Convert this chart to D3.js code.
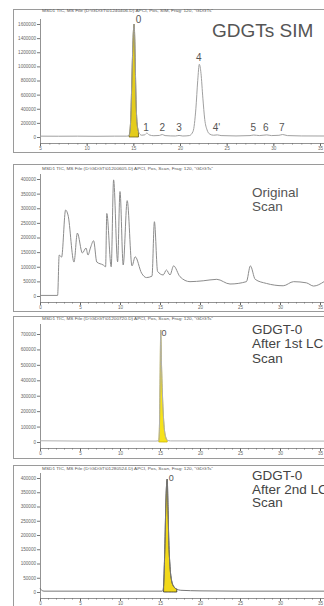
<!DOCTYPE html>
<html>
<head>
<meta charset="utf-8">
<script src="https://cdn.jsdelivr.net/npm/d3@7"></script>
<style>
  body { margin: 0; background: #fff; }
  svg { display: block; font-family: "Liberation Sans", Arial, sans-serif; }
</style>
</head>
<body>
<script>
// ---- data: [retention time (min), abundance] ----
var simTrace = [[5, 12000], [7, 11000], [9, 12000], [11, 10000], [13, 12000], [14.3, 12000], [14.55, 20000],
  [14.7, 200000], [14.8, 600000], [14.9, 1100000], [15.0, 1480000], [15.08, 1600000], [15.15, 1400000],
  [15.22, 950000], [15.3, 480000], [15.4, 200000], [15.55, 80000], [15.7, 40000], [15.9, 25000],
  [16.2, 30000], [16.45, 55000], [16.7, 30000], [17.2, 18000], [17.8, 22000], [18.1, 35000], [18.4, 20000],
  [19.5, 14000], [19.9, 22000], [20.3, 14000], [21.0, 20000], [21.4, 80000], [21.7, 400000], [21.9, 800000],
  [22.07, 1030000], [22.25, 900000], [22.45, 550000], [22.65, 250000], [22.9, 100000], [23.2, 40000],
  [23.6, 25000], [24.0, 30000], [24.4, 20000], [26, 15000], [27.5, 20000], [27.9, 28000], [28.5, 20000],
  [29.3, 30000], [29.8, 20000], [30.6, 24000], [31.0, 35000], [31.5, 20000], [33, 15000], [35.5, 14000]];

var scanTrace = [[0, 2000], [2.2, 2000], [2.4, 140000], [2.7, 133000], [3.2, 294000], [3.5, 277000],
  [4.25, 116000], [4.67, 215000], [5.3, 147000], [5.75, 164000], [6.0, 140000], [6.3, 164000],
  [6.7, 189000], [7.1, 116000], [7.9, 106000], [8.2, 100000], [8.35, 282000], [8.9, 100000],
  [9.2, 397000], [9.7, 117000], [10.0, 357000], [10.4, 106000], [10.9, 326000], [11.5, 103000],
  [11.9, 134000], [12.7, 78000], [13.3, 63000], [14.0, 68000], [14.3, 254000], [14.7, 84000],
  [15.4, 72000], [15.8, 89000], [16.25, 72000], [16.7, 103000], [17.5, 66000], [18.75, 49000],
  [20.4, 52000], [22.1, 57000], [23.75, 41000], [25.8, 49000], [26.3, 103000], [26.9, 57000],
  [28.3, 43000], [30.4, 35000], [31.7, 49000], [33.3, 45000], [34.2, 34000], [35.5, 49000]];

var lc1Trace = [[0, 8000], [5, 6000], [10, 6000], [14.5, 6000], [14.85, 8000], [14.95, 150000],
  [15.02, 450000], [15.09, 726000], [15.2, 480000], [15.35, 250000], [15.5, 110000], [15.7, 35000],
  [15.9, 12000], [16.3, 7000], [20, 7000], [25, 6000], [30, 6000], [35.5, 6000]];

var lc2Trace = [[0, 14000], [0.2, 6000], [0.5, 3000], [5, 3000], [10, 3000], [15.3, 3000], [15.45, 20000],
  [15.6, 150000], [15.75, 330000], [15.9, 396000], [16.0, 300000], [16.1, 180000], [16.25, 90000],
  [16.45, 40000], [16.7, 20000], [17.1, 10000], [17.6, 6000], [20, 4000], [25, 3000], [30, 3000], [35.5, 3000]];

// highlighted GDGT-0 window [start, end]
var simFill = [14.5, 15.6];
var lc1Fill = [14.85, 15.95];
var lc2Fill = [15.4, 17.2];

// peak labels [text, time, abundance]
var simPeaks = [["0", 15.55, 1610000], ["1", 16.36, 90000], ["2", 18.1, 90000], ["3", 19.9, 90000],
  ["4", 22.0, 1078000], ["4'", 23.9, 90000], ["5", 27.85, 90000], ["6", 29.2, 90000], ["7", 30.9, 90000]];
var lc1Peaks = [["0", 15.5, 690000]];
var lc2Peaks = [["0", 16.4, 390000]];

// tick values
var simYTicks = [0, 200000, 400000, 600000, 800000, 1000000, 1200000, 1400000, 1600000];
var scanYTicks = [0, 50000, 100000, 150000, 200000, 250000, 300000, 350000, 400000];
var lc1YTicks = [0, 100000, 200000, 300000, 400000, 500000, 600000, 700000];
var lc2YTicks = [0, 50000, 100000, 150000, 200000, 250000, 300000, 350000, 400000];
var simXTicks = [5, 10, 15, 20, 25, 30, 35];
var scanXTicks = [0, 5, 10, 15, 20, 25, 30, 35];

var headers = [
  'MSD1 TIC, MS File (D:\\GDGT\\01240406.D)   APCI, Pos, SIM, Frag: 120, "GDGTs"',
  'MSD1 TIC, MS File (D:\\GDGT\\01200605.D)   APCI, Pos, Scan, Frag: 120, "GDGTs"',
  'MSD1 TIC, MS File (D:\\GDGT\\01200720.D)   APCI, Pos, Scan, Frag: 120, "GDGTs"',
  'MSD1 TIC, MS File (D:\\GDGT\\01280524.D)   APCI, Pos, Scan, Frag: 120, "GDGTs"'
];
var titles = [["GDGTs SIM"], ["Original", "Scan"], ["GDGT-0", "After 1st LC", "Scan"], ["GDGT-0", "After 2nd LC", "Scan"]];

var W = 324, H = 606;
var svg = d3.select("body").append("svg").attr("width", W).attr("height", H);

var panels = [
  {top: 9, bottom: 152, header: 12, yAxisTop: 19, y0: 137, y1: 24, axisY: 143, xDom: [5, 35],
   yMax: 1600000, trace: simTrace, fill: simFill, peaks: simPeaks, peakSize: 10, yTicks: simYTicks, xTicks: simXTicks,
   line: "#a0a0a0", fillCol: "#e4cc1c", fillStroke: "#6a5c12", titleX: 212, titleY: [37], titleSize: 19, titleCol: "#555"},
  {top: 164, bottom: 311, header: 169.5, yAxisTop: 174, y0: 296, y1: 179, axisY: 302, xDom: [0, 35],
   yMax: 400000, trace: scanTrace, fill: null, peaks: [], peakSize: 9, yTicks: scanYTicks, xTicks: scanXTicks,
   line: "#8c8c8c", titleX: 252, titleY: [197, 210.5], titleSize: 13.5, titleCol: "#555"},
  {top: 316, bottom: 458, header: 320, yAxisTop: 324, y0: 442, y1: 334, axisY: 448, xDom: [0, 35],
   yMax: 700000, trace: lc1Trace, fill: lc1Fill, peaks: lc1Peaks, peakSize: 9, yTicks: lc1YTicks, xTicks: scanXTicks,
   line: "#b0b0b0", fillCol: "#f6e21a", fillStroke: "#c9b50a", titleX: 252, titleY: [334, 348, 362.5], titleSize: 13.5, titleCol: "#444"},
  {top: 465, bottom: 612, header: 469.5, yAxisTop: 473, y0: 592, y1: 478, axisY: 598, xDom: [0, 35],
   yMax: 400000, trace: lc2Trace, fill: lc2Fill, peaks: lc2Peaks, peakSize: 9, yTicks: lc2YTicks, xTicks: scanXTicks,
   line: "#777", fillCol: "#f2d91a", fillStroke: "#2a2a2a", titleX: 252, titleY: [479.5, 493.5, 507], titleSize: 13.5, titleCol: "#444"}
];

panels.forEach(function(p, i) {
  var g = svg.append("g");
  var x = d3.scaleLinear().domain(p.xDom).range([40, 320]);
  var y = d3.scaleLinear().domain([0, p.yMax]).range([p.y0, p.y1]);

  // frame
  g.append("rect").attr("x", 13.5).attr("y", p.top + 0.5).attr("width", 330).attr("height", p.bottom - p.top)
    .attr("fill", "none").attr("stroke", "#9a9a9a").attr("stroke-width", 1);

  // header line
  g.append("text").attr("x", 42).attr("y", p.header).attr("font-size", 4.3).attr("fill", "#555")
    .attr("textLength", 171).attr("lengthAdjust", "spacingAndGlyphs").text(headers[i]);

  // y axis
  var yAx = g.append("g").attr("transform", "translate(40,0)")
    .call(d3.axisLeft(y).tickValues(p.yTicks).tickSize(3).tickPadding(1).tickFormat(d3.format("d")));
  yAx.select(".domain").remove();
  yAx.selectAll("line").attr("stroke", "#777");
  yAx.selectAll("text").attr("font-size", 4.6).attr("fill", "#666").attr("font-family", "Liberation Sans, Arial");
  g.append("line").attr("x1", 40.5).attr("x2", 40.5).attr("y1", p.yAxisTop).attr("y2", p.axisY)
    .attr("stroke", "#777").attr("stroke-width", 0.8);

  // x axis (major + minor ticks)
  var minor = d3.range(p.xDom[0], 36, 1);
  var xMin = g.append("g").attr("transform", "translate(0," + p.axisY + ")")
    .call(d3.axisBottom(x).tickValues(minor).tickSize(1.5).tickFormat(""));
  xMin.select(".domain").remove();
  xMin.selectAll("line").attr("stroke", "#888");
  var xAx = g.append("g").attr("transform", "translate(0," + p.axisY + ")")
    .call(d3.axisBottom(x).tickValues(p.xTicks).tickSize(3).tickPadding(1));
  xAx.select(".domain").remove();
  xAx.selectAll("line").attr("stroke", "#666");
  xAx.selectAll("text").attr("font-size", 4.6).attr("fill", "#666").attr("font-family", "Liberation Sans, Arial");
  g.append("line").attr("x1", 40).attr("x2", 330).attr("y1", p.axisY + 0.5).attr("y2", p.axisY + 0.5)
    .attr("stroke", "#777").attr("stroke-width", 0.8);

  // highlighted peak area
  if (p.fill) {
    var seg = p.trace.filter(function(d) { return d[0] >= p.fill[0] && d[0] <= p.fill[1]; });
    g.append("path").datum(seg)
      .attr("d", d3.area().curve(d3.curveMonotoneX).x(function(d) { return x(d[0]); }).y0(y(0)).y1(function(d) { return y(d[1]); }))
      .attr("fill", p.fillCol).attr("stroke", p.fillStroke).attr("stroke-width", 0.8);
  }

  // trace
  g.append("path").datum(p.trace)
    .attr("d", d3.line().curve(d3.curveMonotoneX).x(function(d) { return x(d[0]); }).y(function(d) { return y(d[1]); }))
    .attr("fill", "none").attr("stroke", p.line).attr("stroke-width", 1);

  // peak labels
  g.selectAll(".pk").data(p.peaks).enter().append("text")
    .attr("x", function(d) { return x(d[1]); })
    .attr("y", function(d) { return y(d[2]); })
    .attr("text-anchor", "middle").attr("font-size", p.peakSize).attr("fill", "#555")
    .text(function(d) { return d[0]; });

  // panel title
  g.selectAll(".tt").data(titles[i]).enter().append("text")
    .attr("x", p.titleX).attr("y", function(d, k) { return p.titleY[k]; })
    .attr("font-size", p.titleSize).attr("fill", p.titleCol)
    .text(function(d) { return d; });
});
</script>
</body>
</html>
